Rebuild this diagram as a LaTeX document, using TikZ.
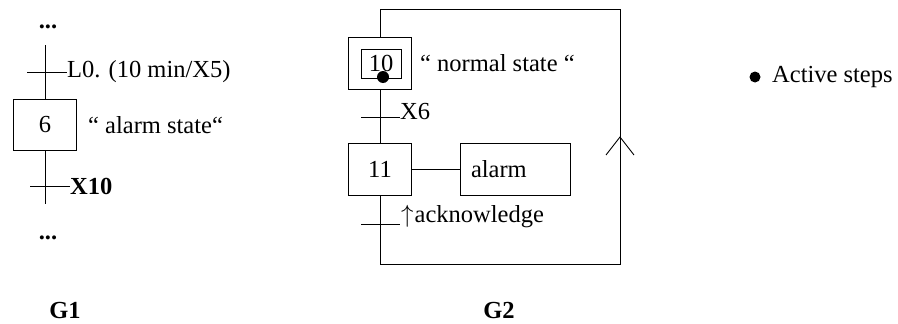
\documentclass[tikz,border=0pt]{standalone}
\usepackage{fontspec}
\setmainfont{Liberation Serif}
\begin{document}
\begin{tikzpicture}[x=1pt,y=-1pt,
  every node/.style={font=\fontsize{24.5}{28}\selectfont, inner sep=0pt},
  ln/.style={line width=0.9pt, black},
  stepbox/.style={draw, line width=0.9pt, minimum width=63pt, minimum height=52pt},
  lbl/.style={anchor=west},
  lblb/.style={anchor=base west},
  bold/.style={font=\fontsize{24.5}{28}\selectfont\bfseries},
  dotmark/.style={fill=black, circle, minimum size=12pt}
]
\useasboundingbox (0,0) rectangle (898,324);

% ---------------- G1 ----------------
\node[bold] (d1) at (48,27) {...};
\coordinate (g1top) at (45,45);
\node[stepbox, minimum height=51pt] (s6) at (45,124.5) {6};
\coordinate (t1l) at (27,72);
\node[lbl] (l1) at (67,72) {L0. (10 min/X5)};
\draw[ln] (g1top) -- (s6.north);
\draw[ln] (t1l) -- (l1.west);
\node[lbl] (a6) at (88,125) {“ alarm state“};
\coordinate (g1bot) at (45,204);
\draw[ln] (s6.south) -- (g1bot);
\coordinate (t2l) at (30,186);
\node[lbl, bold] (l2) at (70,186) {X10};
\draw[ln] (t2l) -- (l2.west);
\node[bold] (d2) at (48,238) {...};
\node[bold] (g1) at (65,311) {G1};

% ---------------- G2 ----------------
\node[stepbox] (s10) at (380,63) {};
\node[draw, line width=0.9pt, minimum width=40pt, minimum height=29pt] (s10i) at (381,63.5) {10};
\node[dotmark] (act) at (383,77) {};
\node[lbl] (n10) at (420,63) {“ normal state “};

\node[stepbox] (s11) at (380,169) {11};
\node[draw, line width=0.9pt, minimum height=52pt, text width=88pt, inner xsep=11pt, align=left] (alarm) at (515,169) {alarm};
\draw[ln] (s11.east) -- (alarm.west);

\draw[ln] (s10.south) -- (s11.north);
\coordinate (t3l) at (361,117);
\coordinate (t3r) at (400,117);
\draw[ln] (t3l) -- (t3r);
\node[lblb] (l3) at (400,119) {X6};

\coordinate (t4l) at (361,224);
\coordinate (t4r) at (400,224);
\draw[ln] (t4l) -- (t4r);
\node[lblb] (l4) at (401,222.5) {$\uparrow$\kern1pt acknowledge};

\coordinate (c1) at (380,264);
\coordinate (c2) at (620,264);
\coordinate (c3) at (620,9);
\coordinate (c4) at (380,9);
\draw[ln] (s11.south) -- (c1) -- (c2) -- (c3) -- (c4) -- (s10.north);

\coordinate (arL) at (606,155);
\coordinate (arT) at (620,137);
\coordinate (arR) at (634,155);
\draw[ln] (arL) -- (arT) -- (arR);

\node[bold] (g2) at (499,311) {G2};

% ---------------- legend ----------------
\node[dotmark, minimum size=11pt] (ld) at (755,77) {};
\node[lbl] (lt) at (772,77) {Active steps};
\end{tikzpicture}
\end{document}
